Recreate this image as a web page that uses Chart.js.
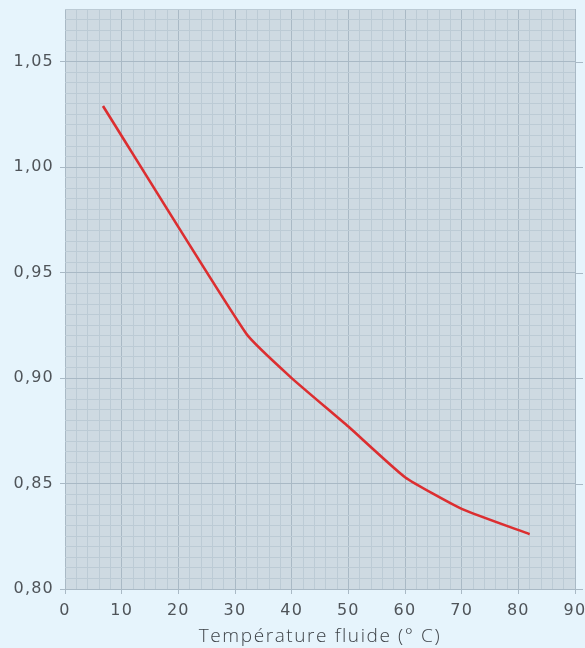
<!DOCTYPE html>
<html>
<head>
<meta charset="utf-8">
<script src="https://cdn.jsdelivr.net/npm/chart.js@4/dist/chart.umd.min.js"></script>
<style>
  html, body { margin: 0; padding: 0; background: #e6f4fc; }
  #wrap { width: 585px; height: 648px; position: relative; }
</style>
</head>
<body>
<div id="wrap"><canvas id="c" width="585" height="648"></canvas></div>
<script>
// Temperature of the fluid (°C) and the corresponding correction factor
const temperatures = [6.7, 32, 40, 50, 60, 70, 82];
const factors = [1.029, 0.921, 0.900, 0.877, 0.853, 0.838, 0.826];

// Axis ranges and grid steps
const xRange = [0, 90];
const yRange = [0.80, 1.075];
const xMinorStep = 2, xMajorStep = 10;
const yMinorStep = 0.005, yMajorStep = 0.05;

const axisTitle = 'Température fluide (° C)';

const PLOT_BG = '#cedae2';
const MINOR = '#bccbd5';
const MAJOR = '#a9b9c5';
const LABEL = '#4f5459';

function isMultiple(v, step) {
  const r = v / step;
  return Math.abs(r - Math.round(r)) < 1e-6;
}

const plotBackground = {
  id: 'plotBackground',
  afterLayout(chart) {
    // slightly wider letter spacing for the axis title
    const xs = chart.scales.x;
    if (!xs._spacedTitle) {
      const orig = xs.drawTitle;
      xs.drawTitle = function () {
        const ctx = this.ctx;
        const prev = ctx.letterSpacing;
        ctx.letterSpacing = '1.6px';
        orig.apply(this, arguments);
        ctx.letterSpacing = prev;
      };
      xs._spacedTitle = true;
    }
  },
  beforeDraw(chart) {
    const { ctx, chartArea: a } = chart;
    ctx.letterSpacing = '1.2px';
    ctx.save();
    ctx.fillStyle = PLOT_BG;
    ctx.fillRect(a.left, a.top, a.right - a.left, a.bottom - a.top);
    ctx.restore();
  },
  afterDraw(chart) {
    // major horizontal lines run a little past the right edge
    const { ctx, chartArea: a } = chart;
    const y = chart.scales.y;
    ctx.save();
    ctx.strokeStyle = MAJOR;
    ctx.lineWidth = 1;
    y.ticks.forEach(t => {
      if (!isMultiple(t.value, yMajorStep)) return;
      const py = Math.round(y.getPixelForValue(t.value)) + 0.5;
      ctx.beginPath();
      ctx.moveTo(a.right, py);
      ctx.lineTo(a.right + 8, py);
      ctx.stroke();
    });
    ctx.restore();
  }
};

new Chart(document.getElementById('c'), {
  type: 'line',
  data: {
    datasets: [{
      data: temperatures.map((t, i) => ({ x: t, y: factors[i] })),
      borderColor: '#dc2e30',
      borderWidth: 2.6,
      pointRadius: 0,
      tension: 0.15,
      fill: false
    }]
  },
  options: {
    responsive: false,
    animation: false,
    layout: { padding: { top: 9, right: 10, left: 0, bottom: 0 } },
    plugins: { legend: { display: false }, tooltip: { enabled: false } },
    scales: {
      x: {
        type: 'linear',
        min: xRange[0],
        max: xRange[1],
        afterFit(s) { s.height = 59; s.paddingLeft = 0; s.paddingRight = 0; },
        border: { display: false },
        grid: {
          color: ctx => isMultiple(ctx.tick.value, xMajorStep) ? MAJOR : MINOR,
          tickColor: ctx => isMultiple(ctx.tick.value, xMajorStep) ? MAJOR : 'rgba(0,0,0,0)',
          tickLength: 5
        },
        ticks: {
          stepSize: xMinorStep,
          autoSkip: false,
          maxRotation: 0,
          padding: 7,
          color: LABEL,
          font: { family: 'DejaVu Sans', size: 16 },
          callback: v => isMultiple(v, xMajorStep) ? String(Math.round(v)) : ''
        },
        title: {
          display: true,
          text: axisTitle,
          color: '#3d4247',
          font: { family: 'Open Sans', size: 19, weight: 300 },
          padding: { top: 0, bottom: 0 }
        }
      },
      y: {
        type: 'linear',
        min: yRange[0],
        max: yRange[1],
        afterFit(s) { s.width = 65; s.paddingTop = 0; s.paddingBottom = 0; },
        border: { display: false },
        grid: {
          color: ctx => isMultiple(ctx.tick.value, yMajorStep) ? MAJOR : MINOR,
          tickColor: ctx => isMultiple(ctx.tick.value, yMajorStep) ? MAJOR : 'rgba(0,0,0,0)',
          tickLength: 5
        },
        ticks: {
          stepSize: yMinorStep,
          autoSkip: false,
          padding: 6,
          color: LABEL,
          font: { family: 'DejaVu Sans', size: 16 },
          callback: v => isMultiple(v, yMajorStep) ? v.toFixed(2).replace('.', ',') : ''
        }
      }
    }
  },
  plugins: [plotBackground]
});
</script>
</body>
</html>
